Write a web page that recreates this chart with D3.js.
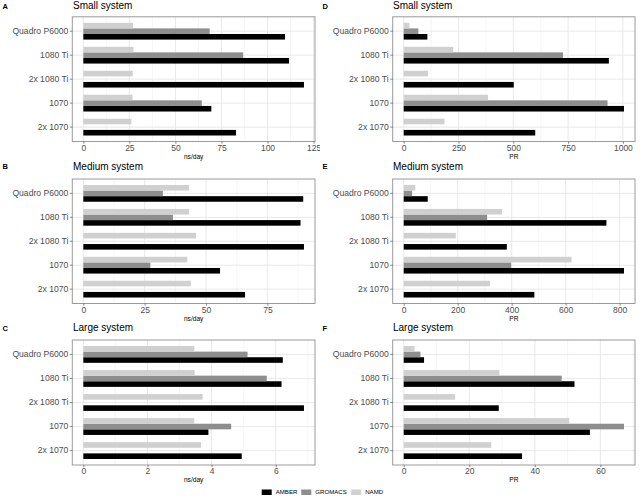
<!DOCTYPE html>
<html><head><meta charset="utf-8">
<script src="https://cdn.jsdelivr.net/npm/d3@7"></script>
<style>body{margin:0;background:#fff} svg{display:block} text{font-family:"Liberation Sans",Arial,sans-serif}</style>
</head><body><svg id="c" width="640" height="498"></svg>
<script>
const gpus = ["Quadro P6000","1080 Ti","2x 1080 Ti","1070","2x 1070"];
const programs = ["AMBER","GROMACS","NAMD"];
const programColors = ["#000000","#8e8e8e","#d0d0d0"];

// ns/day
const smallNsAmber   = [109.5,111.7,119.8,69.5,82.9];
const smallNsGromacs = [68.6,86.8,null,64.3,null];
const smallNsNamd    = [27.0,27.2,26.8,26.7,26.1];
const mediumNsAmber   = [89.6,88.5,89.9,55.7,65.9];
const mediumNsGromacs = [32.4,36.5,null,27.3,null];
const mediumNsNamd    = [43.1,43.1,45.9,42.4,43.8];
const largeNsAmber   = [6.22,6.18,6.88,3.90,4.94];
const largeNsGromacs = [5.12,5.72,null,4.61,null];
const largeNsNamd    = [3.46,3.47,3.72,3.46,3.67];
// PR
const smallPrAmber   = [108,936,502,1005,600];
const smallPrGromacs = [67,727,null,930,null];
const smallPrNamd    = [26,226,111,385,186];
const mediumPrAmber   = [89,751,382,816,484];
const mediumPrGromacs = [31,309,null,398,null];
const mediumPrNamd    = [43,364,193,622,320];
const largePrAmber   = [6.2,52.1,29.0,56.8,36.1];
const largePrGromacs = [5.1,48.2,null,67.2,null];
const largePrNamd    = [3.3,29.2,15.7,50.5,26.7];

// tick labels
const ticksA = [0,25,50,75,100,125];
const ticksB = [0,25,50,75];
const ticksC = [0,2,4,6];
const ticksD = [0,250,500,750,1000];
const ticksE = [0,200,400,600,800];
const ticksF = [0,20,40,60];

const letters = ["A","B","C","D","E","F"];
const titles = ["Small system","Medium system","Large system","Small system","Medium system","Large system"];
const xTitles = ["ns/day","ns/day","ns/day","PR","PR","PR"];

const panels = [
  {amber:smallNsAmber, gromacs:smallNsGromacs, namd:smallNsNamd, ticks:ticksA},
  {amber:mediumNsAmber, gromacs:mediumNsGromacs, namd:mediumNsNamd, ticks:ticksB},
  {amber:largeNsAmber, gromacs:largeNsGromacs, namd:largeNsNamd, ticks:ticksC},
  {amber:smallPrAmber, gromacs:smallPrGromacs, namd:smallPrNamd, ticks:ticksD},
  {amber:mediumPrAmber, gromacs:mediumPrGromacs, namd:mediumPrNamd, ticks:ticksE},
  {amber:largePrAmber, gromacs:largePrGromacs, namd:largePrNamd, ticks:ticksF}
];

const svg = d3.select("#c");
svg.append("defs").append("clipPath").attr("id","leftclip")
  .append("rect").attr("x",0).attr("y",0).attr("width",320).attr("height",498);

const colX = [[72.3,315],[392.7,635]];
const colOff = [0,320];
const rowY = [[16.8,141.5],[179,303.5],[340,465]];
const rowTop = [0,160,320];
const titleBase = [8.8,9.5,11];

panels.forEach((p,i)=>{
  const col = Math.floor(i/3), row = i%3;
  const [left,right] = colX[col];
  const [top,bottom] = rowY[row];
  const root = svg.append("g");
  if(col===0) root.attr("clip-path","url(#leftclip)");

  const all = [...p.amber,...p.gromacs,...p.namd].filter(v=>v!=null);
  const mx = d3.max(all);
  const x = d3.scaleLinear().domain([-0.05*mx, 1.05*mx]).range([left,right]);
  const y = d3.scaleBand().domain(gpus).range([top,bottom]).paddingInner(0).paddingOuter(0.1);
  const step = y.step();

  root.append("rect").attr("x",left).attr("y",top).attr("width",right-left).attr("height",bottom-top).attr("fill","#fff");
  // minor grid
  const minors = [];
  for(let k=0;k<p.ticks.length;k++){
    const a = p.ticks[k], b = k+1<p.ticks.length ? p.ticks[k+1] : p.ticks[k] + (p.ticks[1]-p.ticks[0]);
    const m = (a+b)/2;
    if(m>x.domain()[0] && m<x.domain()[1]) minors.push(m);
  }
  root.selectAll(null).data(minors).enter().append("line")
    .attr("x1",d=>x(d)).attr("x2",d=>x(d)).attr("y1",top).attr("y2",bottom)
    .attr("stroke","#f0f0f0").attr("stroke-width",0.6);
  // major grid
  root.selectAll(null).data(p.ticks.filter(t=>t<=x.domain()[1])).enter().append("line")
    .attr("x1",d=>x(d)).attr("x2",d=>x(d)).attr("y1",top).attr("y2",bottom)
    .attr("stroke","#e6e6e6").attr("stroke-width",0.9);
  root.selectAll(null).data(gpus).enter().append("line")
    .attr("x1",left).attr("x2",right).attr("y1",d=>y(d)+step/2).attr("y2",d=>y(d)+step/2)
    .attr("stroke","#e6e6e6").attr("stroke-width",0.9);

  // bars
  const inner = d3.scaleBand().domain(["NAMD","GROMACS","AMBER"]).range([0, step*0.7]);
  const series = [
    {name:"AMBER", vals:p.amber, color:programColors[0]},
    {name:"GROMACS", vals:p.gromacs, color:programColors[1]},
    {name:"NAMD", vals:p.namd, color:programColors[2]}
  ];
  series.forEach(s=>{
    root.selectAll(null).data(gpus.map((g,j)=>({g, v:s.vals[j]})).filter(d=>d.v!=null))
      .enter().append("rect")
      .attr("x",x(0))
      .attr("y",d=>y(d.g)+step*0.15+inner(s.name))
      .attr("width",d=>x(d.v)-x(0))
      .attr("height",inner.bandwidth())
      .attr("fill",s.color);
  });

  // border
  root.append("rect").attr("x",left).attr("y",top).attr("width",right-left).attr("height",bottom-top)
    .attr("fill","none").attr("stroke","#9a9a9a").attr("stroke-width",1);

  // axes
  const xa = root.append("g").attr("transform",`translate(0,${bottom})`)
    .call(d3.axisBottom(x).tickValues(p.ticks).tickFormat(d3.format("d")).tickSize(2.2).tickPadding(0.8));
  xa.select(".domain").remove();
  xa.selectAll(".tick line").attr("stroke","#555").attr("stroke-width",0.7);
  xa.selectAll(".tick text").attr("fill","#4d4d4d").attr("font-size",8.5)
    .attr("font-family","Liberation Sans, Arial, sans-serif").attr("dy","0.72em");
  const ya = root.append("g").attr("transform",`translate(${left},0)`)
    .call(d3.axisLeft(y).tickSize(2.5).tickPadding(1.5));
  ya.select(".domain").remove();
  ya.selectAll(".tick line").attr("stroke","#555").attr("stroke-width",0.7);
  ya.selectAll(".tick text").attr("fill","#4d4d4d").attr("font-size",8.6)
    .attr("font-family","Liberation Sans, Arial, sans-serif");

  // axis title
  root.append("text").attr("x",(left+right)/2).attr("y",bottom+17)
    .attr("text-anchor","middle").attr("font-size",6.6).attr("fill","#000").text(xTitles[i]);
  // title and letter
  root.append("text").attr("x",colOff[col]+73).attr("y",rowTop[row]+titleBase[row])
    .attr("font-size",10).attr("fill","#000").text(titles[i]);
  root.append("text").attr("x",colOff[col]+2.5).attr("y",rowTop[row]+titleBase[row]-0.2)
    .attr("font-size",7.5).attr("font-weight","bold").attr("fill","#000").text(letters[i]);
});

// legend
const legX = [261.7, 301.3, 351.2];
const leg = svg.append("g");
programs.forEach((name,k)=>{
  leg.append("rect").attr("x",legX[k]).attr("y",489.5).attr("width",10).attr("height",5.5).attr("fill",programColors[k]);
  leg.append("text").attr("x",legX[k]+14).attr("y",494.3).attr("font-size",6.1).attr("fill","#000").text(name);
});
</script></body></html>
